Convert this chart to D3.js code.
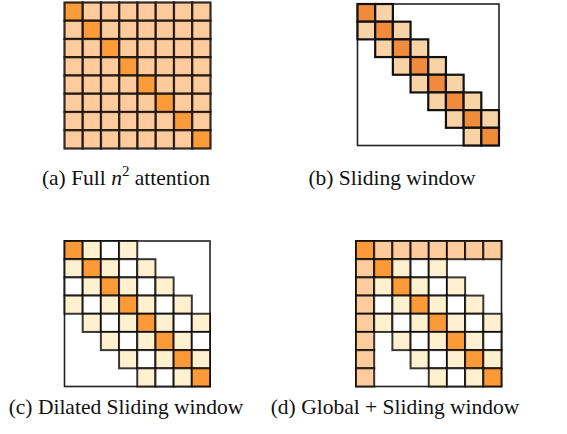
<!DOCTYPE html>
<html>
<head>
<meta charset="utf-8">
<script src="https://cdn.jsdelivr.net/npm/d3@7"></script>
<style>
  body { margin: 0; background: #fff; }
  svg { display: block; }
</style>
</head>
<body>
<script>
// Attention patterns, one string per row.
// D = diagonal, L = attended, W = skipped (dilated) cell, G = global, . = nothing
const fullPattern = [
  "DLLLLLLL",
  "LDLLLLLL",
  "LLDLLLLL",
  "LLLDLLLL",
  "LLLLDLLL",
  "LLLLLDLL",
  "LLLLLLDL",
  "LLLLLLLD"
];
const slidingPattern = [
  "DL......",
  "LDL.....",
  ".LDL....",
  "..LDL...",
  "...LDL..",
  "....LDL.",
  ".....LDL",
  "......LD"
];
const dilatedPattern = [
  "DLWL....",
  "LDLWL...",
  "WLDLWL..",
  "LWLDLWL.",
  ".LWLDLWL",
  "..LWLDLW",
  "...LWLDL",
  "....LWLD"
];
const globalPattern = [
  "DGGGGGGG",
  "GDLWL...",
  "GLDLWL..",
  "GWLDLWL.",
  "GLWLDLWL",
  "G.LWLDLW",
  "G..LWLDL",
  "G...LWLD"
];
const captions = ["(a) Full ", "(b) Sliding window", "(c) Dilated Sliding window", "(d) Global + Sliding window"];

const width = 567, height = 434;

const svg = d3.select("body").append("svg")
  .attr("width", width)
  .attr("height", height);

// layout of each panel
const panels = [
  { pattern: fullPattern, x: 64.5, y: 2.5, size: 146, frame: false,
    colors: { D: "#fb9b3a", L: "#fecc9c", W: "#ffffff", G: "#fecc9c" },
    stroke: "#1c1410", strokeWidth: 2.2, strokeOpacity: 0.9 },
  { pattern: slidingPattern, x: 357.5, y: 4, size: 141.5, frame: true,
    colors: { D: "#ef8b3b", L: "#f8d3a6", W: "#ffffff", G: "#f8d3a6" },
    stroke: "#111", strokeWidth: 2.2, strokeOpacity: 1 },
  { pattern: dilatedPattern, x: 64.5, y: 241, size: 145.5, frame: true,
    colors: { D: "#fd9a38", L: "#fff0cf", W: "#ffffff", G: "#fecc9c" },
    stroke: "#000", strokeWidth: 2, strokeOpacity: 0.78 },
  { pattern: globalPattern, x: 356, y: 241, size: 145.5, frame: true,
    colors: { D: "#fd9a38", L: "#fff0cf", W: "#ffffff", G: "#fecc9c" },
    stroke: "#000", strokeWidth: 2, strokeOpacity: 0.78 }
];

panels.forEach(p => {
  const n = p.pattern.length;
  const xScale = d3.scaleBand().domain(d3.range(n)).range([0, p.size]);
  const yScale = d3.scaleBand().domain(d3.range(n)).range([0, p.size]);

  const g = svg.append("g").attr("transform", `translate(${p.x},${p.y})`);

  if (p.frame) {
    g.append("rect")
      .attr("x", 0).attr("y", 0)
      .attr("width", p.size).attr("height", p.size)
      .attr("fill", "none")
      .attr("stroke", "#222")
      .attr("stroke-width", 1.6);
  }

  const cells = [];
  p.pattern.forEach((row, i) => {
    row.split("").forEach((c, j) => {
      if (c !== ".") cells.push({ row: i, col: j, type: c });
    });
  });

  g.selectAll("rect.cell")
    .data(cells)
    .enter()
    .append("rect")
    .attr("class", "cell")
    .attr("x", d => xScale(d.col))
    .attr("y", d => yScale(d.row))
    .attr("width", xScale.bandwidth())
    .attr("height", yScale.bandwidth())
    .attr("fill", d => p.colors[d.type])
    .attr("stroke", p.stroke)
    .attr("stroke-opacity", p.strokeOpacity)
    .attr("stroke-width", p.strokeWidth);
});

// captions
const captionPos = [[126, 185], [392, 185], [126, 414], [395, 414]];
captions.forEach((t, i) => {
  const txt = svg.append("text")
    .attr("x", captionPos[i][0])
    .attr("y", captionPos[i][1])
    .attr("text-anchor", "middle")
    .attr("font-family", "'Liberation Serif', 'Times New Roman', serif")
    .attr("font-size", 21.5)
    .attr("fill", "#111");
  txt.append("tspan").text(t);
  if (i === 0) {
    txt.append("tspan").attr("font-style", "italic").text("n");
    txt.append("tspan").attr("font-size", 15).attr("dy", -9).text("2");
    txt.append("tspan").attr("dy", 9).text(" attention");
  }
});
</script>
</body>
</html>
